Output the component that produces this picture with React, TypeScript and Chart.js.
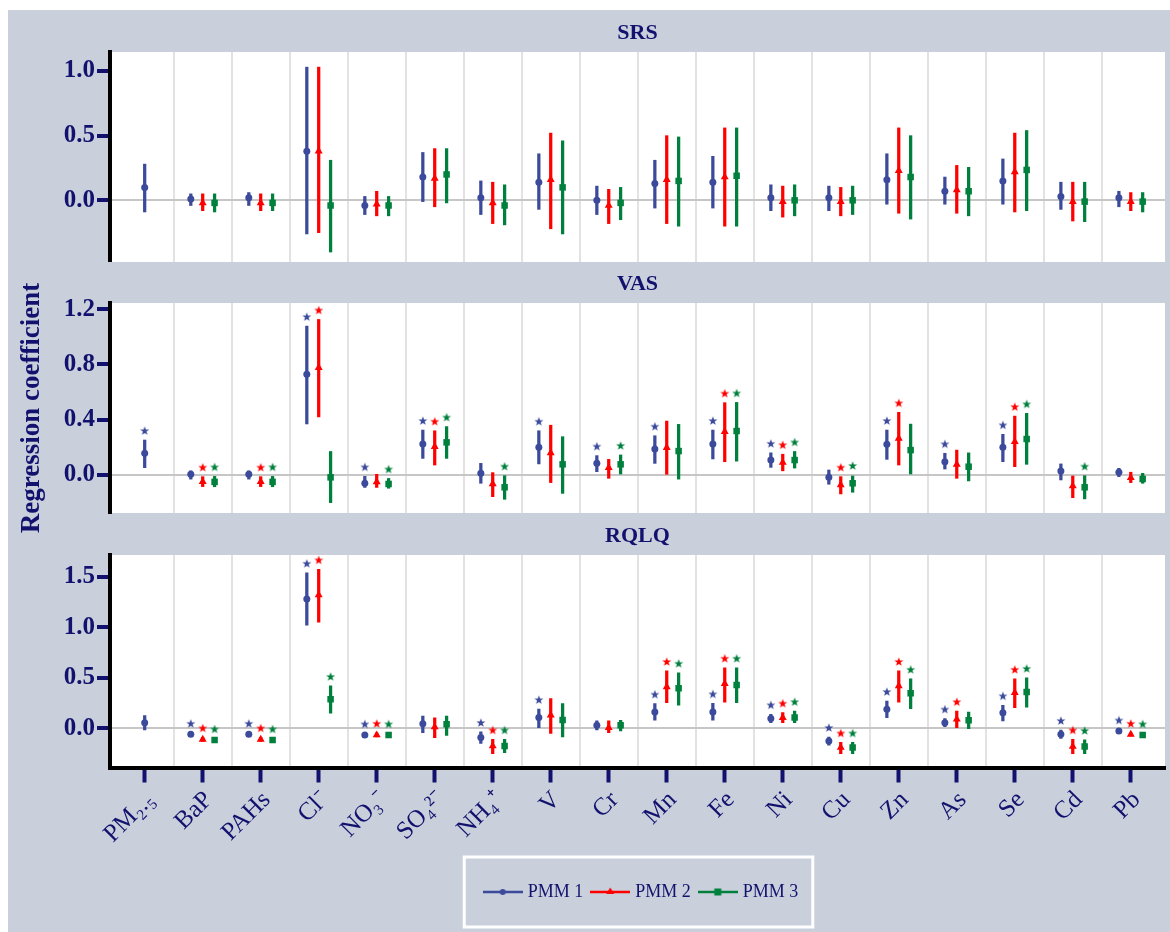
import React, { useEffect, useRef } from 'react';
import { Chart, registerables } from 'chart.js';

Chart.register(...registerables);

// ---------------- data ----------------
const categories = ['PM₂.₅', 'BaP', 'PAHs', 'Cl⁻', 'NO₃⁻', 'SO₄²⁻', 'NH₄⁺', 'V', 'Cr', 'Mn', 'Fe', 'Ni', 'Cu', 'Zn', 'As', 'Se', 'Cd', 'Pb'];
const seriesNames = ['PMM 1', 'PMM 2', 'PMM 3'];
const panelTitles = ['SRS', 'VAS', 'RQLQ'];
const yAxisTitle = 'Regression coefficient';

type CI = [number, number, number] | null; // [estimate, lower, upper]

// SRS
const srsPmm1: CI[] = [[0.10, -0.09, 0.28], [0.01, -0.04, 0.05], [0.02, -0.04, 0.06], [0.38, -0.26, 1.03], [-0.04, -0.11, 0.03], [0.18, -0.01, 0.37], [0.02, -0.11, 0.15], [0.14, -0.07, 0.36], [0.00, -0.11, 0.11], [0.13, -0.06, 0.31], [0.14, -0.06, 0.34], [0.02, -0.08, 0.12], [0.02, -0.08, 0.11], [0.16, -0.03, 0.36], [0.07, -0.03, 0.18], [0.15, -0.03, 0.32], [0.03, -0.07, 0.14], [0.02, -0.05, 0.07]];
const srsPmm2: CI[] = [null, [-0.02, -0.08, 0.05], [-0.02, -0.08, 0.05], [0.38, -0.25, 1.03], [-0.03, -0.12, 0.07], [0.17, -0.05, 0.40], [-0.02, -0.18, 0.14], [0.16, -0.22, 0.52], [-0.04, -0.18, 0.085], [0.16, -0.18, 0.50], [0.18, -0.20, 0.56], [-0.01, -0.13, 0.11], [-0.01, -0.12, 0.10], [0.23, -0.10, 0.56], [0.08, -0.10, 0.27], [0.22, -0.09, 0.52], [-0.01, -0.16, 0.14], [-0.01, -0.08, 0.06]];
const srsPmm3: CI[] = [null, [-0.02, -0.09, 0.05], [-0.02, -0.08, 0.05], [-0.04, -0.40, 0.31], [-0.04, -0.12, 0.03], [0.20, -0.02, 0.40], [-0.04, -0.19, 0.12], [0.10, -0.26, 0.46], [-0.02, -0.15, 0.10], [0.15, -0.20, 0.49], [0.19, -0.20, 0.56], [0.00, -0.12, 0.12], [0.00, -0.11, 0.11], [0.18, -0.145, 0.50], [0.07, -0.12, 0.255], [0.235, -0.08, 0.54], [-0.01, -0.165, 0.14], [-0.01, -0.09, 0.06]];
const srsPmm1Sig = [0, 0, 0, 0, 0, 0, 0, 0, 0, 0, 0, 0, 0, 0, 0, 0, 0, 0];
const srsPmm2Sig = [0, 0, 0, 0, 0, 0, 0, 0, 0, 0, 0, 0, 0, 0, 0, 0, 0, 0];
const srsPmm3Sig = [0, 0, 0, 0, 0, 0, 0, 0, 0, 0, 0, 0, 0, 0, 0, 0, 0, 0];

// VAS
const vasPmm1: CI[] = [[0.157, 0.053, 0.253], [0.005, -0.03, 0.03], [0.005, -0.03, 0.03], [0.728, 0.369, 1.077], [-0.06, -0.09, -0.01], [0.224, 0.12, 0.325], [0.012, -0.06, 0.084], [0.20, 0.08, 0.32], [0.084, 0.024, 0.14], [0.188, 0.084, 0.284], [0.224, 0.116, 0.325], [0.108, 0.055, 0.16], [-0.017, -0.067, 0.036], [0.222, 0.113, 0.325], [0.096, 0.043, 0.157], [0.20, 0.096, 0.294], [0.029, -0.036, 0.08], [0.019, -0.012, 0.048]];
const vasPmm2: CI[] = [null, [-0.048, -0.084, -0.012], [-0.048, -0.084, -0.012], [0.776, 0.42, 1.125], [-0.05, -0.09, 0.005], [0.205, 0.072, 0.32], [-0.065, -0.157, 0.017], [0.16, -0.055, 0.36], [0.053, -0.024, 0.113], [0.198, 0.005, 0.39], [0.313, 0.096, 0.523], [0.09, 0.03, 0.15], [-0.072, -0.137, -0.012], [0.265, 0.072, 0.453], [0.077, -0.024, 0.18], [0.24, 0.06, 0.426], [-0.08, -0.164, 0.0], [-0.02, -0.055, 0.02]];
const vasPmm3: CI[] = [null, [-0.05, -0.085, -0.01], [-0.05, -0.085, -0.01], [-0.017, -0.20, 0.17], [-0.065, -0.096, -0.025], [0.236, 0.12, 0.35], [-0.089, -0.176, -0.005], [0.077, -0.133, 0.277], [0.077, 0.007, 0.145], [0.173, -0.03, 0.366], [0.318, 0.10, 0.525], [0.108, 0.05, 0.17], [-0.06, -0.125, 0.0], [0.18, 0.0, 0.368], [0.06, -0.043, 0.16], [0.26, 0.077, 0.446], [-0.089, -0.173, -0.005], [-0.029, -0.06, 0.012]];
const vasPmm1Sig = [1, 0, 0, 1, 1, 1, 0, 1, 1, 1, 1, 1, 0, 1, 1, 1, 0, 0];
const vasPmm2Sig = [0, 1, 1, 1, 0, 1, 0, 0, 0, 0, 1, 1, 1, 1, 0, 1, 0, 0];
const vasPmm3Sig = [0, 1, 1, 0, 1, 1, 1, 0, 1, 0, 1, 1, 1, 0, 0, 1, 1, 0];

// RQLQ
const rqlqPmm1: CI[] = [[0.056, -0.017, 0.125], [-0.06, -0.08, -0.045], [-0.06, -0.08, -0.045], [1.28, 1.02, 1.54], [-0.066, -0.08, -0.05], [0.046, -0.043, 0.12], [-0.092, -0.15, -0.036], [0.106, 0.007, 0.19], [0.03, -0.017, 0.073], [0.162, 0.08, 0.244], [0.162, 0.08, 0.247], [0.096, 0.056, 0.139], [-0.125, -0.168, -0.086], [0.188, 0.106, 0.27], [0.056, 0.016, 0.096], [0.155, 0.073, 0.228], [-0.06, -0.10, -0.017], [-0.026, -0.04, -0.012]];
const rqlqPmm2: CI[] = [null, [-0.11, -0.13, -0.09], [-0.11, -0.13, -0.09], [1.32, 1.05, 1.574], [-0.066, -0.085, -0.045], [0.013, -0.092, 0.105], [-0.175, -0.25, -0.11], [0.13, -0.05, 0.294], [0.007, -0.043, 0.073], [0.41, 0.254, 0.568], [0.442, 0.26, 0.60], [0.106, 0.056, 0.155], [-0.19, -0.25, -0.14], [0.42, 0.26, 0.568], [0.089, 0.007, 0.17], [0.353, 0.205, 0.49], [-0.18, -0.25, -0.11], [-0.06, -0.075, -0.045]];
const rqlqPmm3: CI[] = [null, [-0.115, -0.13, -0.10], [-0.115, -0.13, -0.10], [0.287, 0.15, 0.42], [-0.066, -0.08, -0.05], [0.04, -0.07, 0.12], [-0.175, -0.24, -0.11], [0.083, -0.086, 0.244], [0.03, -0.026, 0.08], [0.396, 0.228, 0.55], [0.43, 0.254, 0.60], [0.106, 0.056, 0.17], [-0.19, -0.25, -0.14], [0.347, 0.195, 0.49], [0.08, -0.003, 0.16], [0.36, 0.21, 0.50], [-0.18, -0.25, -0.115], [-0.066, -0.08, -0.05]];
const rqlqPmm1Sig = [0, 1, 1, 1, 1, 0, 1, 1, 0, 1, 1, 1, 1, 1, 1, 1, 1, 1];
const rqlqPmm2Sig = [0, 1, 1, 1, 1, 0, 1, 0, 0, 1, 1, 1, 1, 1, 1, 1, 1, 1];
const rqlqPmm3Sig = [0, 1, 1, 1, 1, 0, 1, 0, 0, 1, 1, 1, 1, 1, 0, 1, 1, 1];

// y-axis tick labels per panel
const srsTicks = [0, 0.5, 1.0];
const vasTicks = [0, 0.4, 0.8, 1.2];
const rqlqTicks = [0, 0.5, 1.0, 1.5];

// ---------------- styles ----------------
const NAVY = '#12126e';
const BG = '#c9d0dc';
const GRID = '#e2e2e2';
const ZERO = '#c6c6c6';
const COLORS = ['#3b4a9b', '#ff0000', '#00803d'];
const FONT = "'Liberation Serif', 'Times New Roman', serif";
const OFFSETS = [-0.205, 0, 0.205];
const POINT_STYLES = ['circle', 'triangle', 'rect'];
const POINT_RADII = [3.5, 4.6, 4.6];
const X_MIN = -0.598;
const X_MAX = 17.59;
const STAR_GAP = 9;
const LEGEND_SHIFT = 5;

function makeStar(color: string): HTMLCanvasElement {
  const c = document.createElement('canvas');
  const R = 4.7;
  const r = 1.95;
  const h = Math.ceil(2 * (STAR_GAP + R + 1));
  c.width = 12;
  c.height = h;
  const g = c.getContext('2d')!;
  const cx = 6;
  const cy = h / 2 - STAR_GAP;
  g.beginPath();
  for (let i = 0; i < 10; i++) {
    const rad = i % 2 === 0 ? R : r;
    const a = -Math.PI / 2 + (i * Math.PI) / 5;
    g.lineTo(cx + rad * Math.cos(a), cy + rad * Math.sin(a));
  }
  g.closePath();
  g.fillStyle = color;
  g.fill();
  return c;
}

function makeLegendIcon(k: number): HTMLCanvasElement {
  const c = document.createElement('canvas');
  c.width = 40;
  c.height = 12;
  const g = c.getContext('2d')!;
  g.strokeStyle = COLORS[k];
  g.lineWidth = 2.5;
  g.beginPath();
  g.moveTo(0, 6);
  g.lineTo(40, 6);
  g.stroke();
  g.fillStyle = COLORS[k];
  g.beginPath();
  if (k === 0) {
    g.arc(20, 6, 3, 0, Math.PI * 2);
  } else if (k === 1) {
    g.moveTo(20, 1.5);
    g.lineTo(24, 8);
    g.lineTo(16, 8);
    g.closePath();
  } else {
    g.rect(16.5, 2.5, 7, 7);
  }
  g.fill();
  return c;
}

function buildDatasets(series: CI[][], sig: number[][], stars: HTMLCanvasElement[]) {
  const ds: any[] = [];
  series.forEach((s, k) => {
    const pts: any[] = [];
    const bars: any[] = [];
    const st: any[] = [];
    s.forEach((v, i) => {
      if (!v) return;
      const alone = series.every((o, j) => j === k || !o[i]);
      const x = i + (alone ? 0 : OFFSETS[k]);
      pts.push({ x, y: v[0] });
      bars.push({ x, y: [v[1], v[2]] });
      if (sig[k][i]) st.push({ x, y: v[2] });
    });
    ds.push({
      type: 'bar',
      label: seriesNames[k] + ' CI',
      data: bars,
      backgroundColor: COLORS[k],
      borderWidth: 0,
      barThickness: 2.6,
      maxBarThickness: 2.6,
      grouped: false,
      xAxisID: 'x',
      yAxisID: 'y',
      order: 3,
    });
    ds.push({
      type: 'scatter',
      label: seriesNames[k],
      data: pts,
      pointStyle: POINT_STYLES[k],
      pointRadius: POINT_RADII[k],
      pointBackgroundColor: COLORS[k],
      pointBorderColor: COLORS[k],
      pointBorderWidth: 0,
      backgroundColor: COLORS[k],
      borderColor: COLORS[k],
      xAxisID: 'x',
      yAxisID: 'y',
      order: 1,
    });
    if (st.length) {
      ds.push({
        type: 'scatter',
        label: seriesNames[k] + ' sig',
        data: st,
        pointStyle: stars[k],
        pointRadius: 5,
        xAxisID: 'x',
        yAxisID: 'y',
        clip: false,
        order: 2,
      });
    }
  });
  return ds;
}

const plotBg = {
  id: 'plotBg',
  beforeDraw(chart: any) {
    const { ctx, chartArea: a } = chart;
    ctx.save();
    ctx.fillStyle = '#ffffff';
    ctx.fillRect(a.left, a.top, a.right - a.left, a.bottom - a.top);
    ctx.restore();
  },
};

const legendFrame = {
  id: 'legendFrame',
  afterLayout(chart: any) {
    const lg = chart.legend;
    if (lg) {
      lg.left += LEGEND_SHIFT;
      lg.right += LEGEND_SHIFT;
    }
  },
  afterDraw(chart: any) {
    const lg = chart.legend;
    if (!lg || !lg.legendHitBoxes || !lg.legendHitBoxes.length) return;
    const hb = lg.legendHitBoxes;
    const left = Math.min(...hb.map((b: any) => b.left));
    const right = Math.max(...hb.map((b: any) => b.left + b.width));
    const cy = hb[0].top + hb[0].height / 2;
    const { ctx } = chart;
    ctx.save();
    ctx.strokeStyle = '#ffffff';
    ctx.lineWidth = 3;
    ctx.strokeRect(left - 22.5, cy - 35, right - left + 37, 70);
    ctx.restore();
  },
};

type PanelSpec = {
  title: string;
  series: CI[][];
  sig: number[][];
  ticks: number[];
  yMin: number;
  yMax: number;
  titlePadTop: number;
  titlePadBottom: number;
  padBottom: number;
  isBottom: boolean;
  withYTitle: boolean;
  xAxisHeight: number;
};

function makeConfig(p: PanelSpec, stars: HTMLCanvasElement[], icons: HTMLCanvasElement[]): any {
  const xLabel: any = {
    type: 'linear',
    position: 'bottom',
    min: X_MIN,
    max: X_MAX,
    offset: false,
    display: p.isBottom,
    afterBuildTicks: (s: any) => {
      s.ticks = categories.map((_, i) => ({ value: i }));
    },
    ticks: {
      autoSkip: false,
      minRotation: 45,
      maxRotation: 45,
      labelOffset: 6,
      color: NAVY,
      padding: 3,
      font: { family: FONT, size: 25 },
      callback: (v: any) => categories[Math.round(Number(v))],
    },
    grid: { offset: false, drawOnChartArea: false, drawTicks: true, tickLength: 15, tickWidth: 4, tickColor: NAVY, color: NAVY },
    border: { display: true, color: '#000000', width: 4 },
  };
  if (p.isBottom) {
    xLabel.afterFit = (s: any) => {
      s.height = p.xAxisHeight;
    };
  }
  return {
    type: 'scatter',
    data: { datasets: buildDatasets(p.series, p.sig, stars) },
    options: {
      animation: false,
      responsive: false,
      devicePixelRatio: 1,
      events: [],
      layout: { autoPadding: false, padding: { left: 0, right: 5, top: 0, bottom: p.padBottom } },
      scales: {
        xg: {
          type: 'linear',
          position: 'top',
          min: X_MIN,
          max: X_MAX,
          offset: false,
          afterBuildTicks: (s: any) => {
            s.ticks = categories.slice(1).map((_, i) => ({ value: i + 0.5 }));
          },
          ticks: { display: false },
          grid: { offset: false, drawOnChartArea: true, drawTicks: false, color: GRID, lineWidth: 2 },
          border: { display: false },
        },
        x: xLabel,
        y: {
          type: 'linear',
          position: 'left',
          min: p.yMin,
          max: p.yMax,
          afterBuildTicks: (s: any) => {
            s.ticks = p.ticks.map((v) => ({ value: v }));
          },
          afterFit: (s: any) => {
            s.width = 102;
            s.paddingTop = 0;
            s.paddingBottom = 0;
          },
          ticks: {
            color: NAVY,
            padding: 2,
            font: { family: FONT, size: 25, weight: 'bold' },
            callback: (v: any) => Number(v).toFixed(1),
          },
          grid: {
            drawOnChartArea: true,
            drawTicks: true,
            tickLength: 13,
            tickWidth: 4,
            tickColor: NAVY,
            lineWidth: 2,
            color: (ctx: any) => (ctx.tick && ctx.tick.value === 0 ? ZERO : 'rgba(0,0,0,0)'),
          },
          border: { display: true, color: '#000000', width: 4 },
          title: p.withYTitle
            ? {
                display: true,
                text: yAxisTitle,
                color: NAVY,
                font: { family: FONT, size: 27, weight: 'bold' },
                padding: { top: 8, bottom: 0 },
              }
            : { display: false },
        },
      },
      plugins: {
        tooltip: { enabled: false },
        title: {
          display: true,
          text: p.title,
          fullSize: false,
          color: NAVY,
          font: { family: FONT, size: 22, weight: 'bold', lineHeight: 1.2 },
          padding: { top: p.titlePadTop, bottom: p.titlePadBottom },
        },
        legend: {
          display: p.isBottom,
          position: 'bottom',
          fullSize: false,
          labels: {
            usePointStyle: true,
            pointStyleWidth: 32,
            boxHeight: 18,
            padding: 11,
            color: NAVY,
            font: { family: FONT, size: 18 },
            generateLabels: () =>
              seriesNames.map((n, k) => ({
                text: n,
                fillStyle: COLORS[k],
                strokeStyle: COLORS[k],
                lineWidth: 0,
                pointStyle: icons[k],
                hidden: false,
                datasetIndex: k,
                fontColor: NAVY,
              })),
          },
        },
      },
    },
    plugins: p.isBottom ? [plotBg, legendFrame] : [plotBg],
  };
}

const W = 1162;
const canvasLayout = [
  { top: 0, height: 252 },
  { top: 252, height: 291 },
  { top: 503, height: 419 },
];

export default function App() {
  const r0 = useRef<HTMLCanvasElement>(null);
  const r1 = useRef<HTMLCanvasElement>(null);
  const r2 = useRef<HTMLCanvasElement>(null);

  useEffect(() => {
    const stars = COLORS.map((c) => makeStar(c));
    const icons = [0, 1, 2].map((k) => makeLegendIcon(k));
    const specs: PanelSpec[] = [
      {
        title: panelTitles[0],
        series: [srsPmm1, srsPmm2, srsPmm3],
        sig: [srsPmm1Sig, srsPmm2Sig, srsPmm3Sig],
        ticks: srsTicks,
        yMin: -0.477,
        yMax: 1.147,
        titlePadTop: 10,
        titlePadBottom: 5.6,
        padBottom: 0,
        isBottom: false,
        withYTitle: false,
        xAxisHeight: 0,
      },
      {
        title: panelTitles[1],
        series: [vasPmm1, vasPmm2, vasPmm3],
        sig: [vasPmm1Sig, vasPmm2Sig, vasPmm3Sig],
        ticks: vasTicks,
        yMin: -0.275,
        yMax: 1.244,
        titlePadTop: 9,
        titlePadBottom: 5.6,
        padBottom: 40,
        isBottom: false,
        withYTitle: true,
        xAxisHeight: 0,
      },
      {
        title: panelTitles[2],
        series: [rqlqPmm1, rqlqPmm2, rqlqPmm3],
        sig: [rqlqPmm1Sig, rqlqPmm2Sig, rqlqPmm3Sig],
        ticks: rqlqTicks,
        yMin: -0.388,
        yMax: 1.716,
        titlePadTop: 10,
        titlePadBottom: 5.6,
        padBottom: 21,
        isBottom: true,
        withYTitle: false,
        xAxisHeight: 104.5,
      },
    ];
    const refs = [r0, r1, r2];
    const charts = specs.map((s, i) => new Chart(refs[i].current!, makeConfig(s, stars, icons)));
    return () => charts.forEach((c) => c.destroy());
  }, []);

  const refs = [r0, r1, r2];
  return (
    <div
      style={{
        position: 'absolute',
        left: 8,
        top: 10,
        width: W,
        height: 922,
        background: BG,
        overflow: 'hidden',
      }}
    >
      {canvasLayout.map((c, i) => (
        <canvas
          key={i}
          ref={refs[i]}
          width={W}
          height={c.height}
          style={{ position: 'absolute', left: 0, top: c.top, width: W, height: c.height }}
        />
      ))}
    </div>
  );
}
